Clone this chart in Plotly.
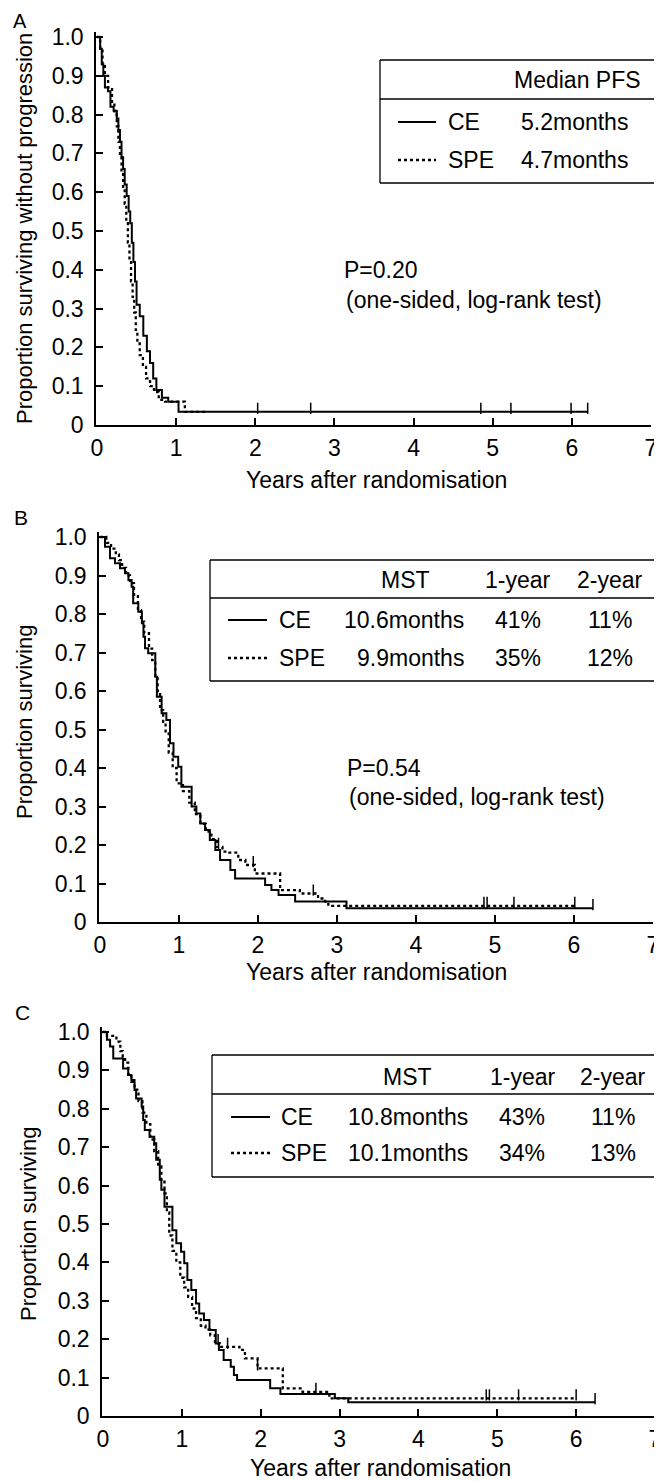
import numpy as np
import plotly.graph_objects as go

# page body adds an 8px margin, so the figure is drawn 8px smaller and shifted
PAGE_W, PAGE_H = 662, 1481
OFF = 8
W, H = PAGE_W - OFF, PAGE_H - OFF
FONT = "Liberation Sans, Arial, Helvetica, sans-serif"
FS = 23

# ---------------- data ----------------
# Panel A: progression-free survival
a_ce_t = [0, 0.04, 0.06, 0.08, 0.10, 0.14, 0.17, 0.21, 0.25, 0.27, 0.29, 0.31, 0.33, 0.35, 0.375, 0.40,
          0.42, 0.44, 0.46, 0.48, 0.50, 0.54, 0.585, 0.63, 0.67, 0.71, 0.75, 0.82, 0.90, 1.03, 6.20]
a_ce_s = [1.0, 0.97, 0.93, 0.90, 0.87, 0.86, 0.82, 0.81, 0.79, 0.76, 0.73, 0.69, 0.66, 0.62, 0.59, 0.55,
          0.52, 0.47, 0.42, 0.37, 0.31, 0.28, 0.23, 0.19, 0.16, 0.12, 0.09, 0.07, 0.06, 0.034, 0.034]
a_spe_t = [0, 0.04, 0.07, 0.10, 0.14, 0.19, 0.22, 0.25, 0.27, 0.29, 0.31, 0.33, 0.35, 0.37, 0.39, 0.41,
           0.43, 0.45, 0.47, 0.49, 0.51, 0.54, 0.58, 0.62, 0.67, 0.72, 0.78, 0.86, 1.11, 1.38]
a_spe_s = [1.0, 0.97, 0.93, 0.90, 0.87, 0.83, 0.80, 0.77, 0.73, 0.69, 0.65, 0.61, 0.57, 0.52, 0.47, 0.42,
           0.37, 0.33, 0.29, 0.245, 0.21, 0.18, 0.15, 0.12, 0.10, 0.085, 0.065, 0.06, 0.034, 0.034]
a_ce_cens = [2.03, 2.70, 4.85, 5.23, 5.99, 6.20]
a_spe_cens = []

# Panel B: overall survival
b_ce_t = [0, 0.063, 0.127, 0.19, 0.253, 0.316, 0.36, 0.40, 0.42, 0.485, 0.53, 0.55, 0.57, 0.61, 0.70,
          0.72, 0.78, 0.84, 0.886, 0.93, 0.99, 1.03, 1.16, 1.22, 1.27, 1.33, 1.39, 1.46, 1.52, 1.65,
          1.71, 2.09, 2.17, 2.26, 2.47, 3.12, 6.24]
b_ce_s = [1.0, 0.975, 0.945, 0.932, 0.919, 0.906, 0.888, 0.871, 0.828, 0.806, 0.776, 0.741, 0.711,
          0.698, 0.637, 0.585, 0.542, 0.525, 0.464, 0.429, 0.403, 0.351, 0.30, 0.282, 0.256, 0.239,
          0.213, 0.187, 0.161, 0.135, 0.113, 0.096, 0.083, 0.070, 0.053, 0.036, 0.036]
b_spe_t = [0, 0.08, 0.14, 0.20, 0.24, 0.28, 0.33, 0.38, 0.43, 0.48, 0.52, 0.56, 0.62, 0.66, 0.70, 0.73,
           0.76, 0.80, 0.83, 0.87, 0.92, 0.97, 1.05, 1.13, 1.20, 1.27, 1.34, 1.41, 1.48, 1.55, 1.62,
           1.75, 1.84, 1.96, 2.28, 2.53, 2.76, 2.85, 2.89, 6.01]
b_spe_s = [1.0, 0.985, 0.97, 0.955, 0.94, 0.92, 0.90, 0.88, 0.85, 0.81, 0.78, 0.75, 0.71, 0.68, 0.64,
           0.60, 0.55, 0.52, 0.49, 0.44, 0.40, 0.36, 0.34, 0.31, 0.28, 0.255, 0.235, 0.215, 0.195,
           0.183, 0.18, 0.161, 0.148, 0.126, 0.083, 0.074, 0.061, 0.053, 0.042, 0.042]
b_ce_cens = [6.24]
b_spe_cens = [1.50, 1.94, 2.70, 4.86, 4.90, 5.24, 6.01]

# Panel C: overall survival (eligible patients)
c_ce_t = [0, 0.05, 0.09, 0.13, 0.255, 0.32, 0.36, 0.40, 0.42, 0.49, 0.51, 0.53, 0.59, 0.65, 0.675,
          0.72, 0.74, 0.78, 0.88, 0.93, 0.99, 1.03, 1.07, 1.12, 1.18, 1.22, 1.28, 1.35, 1.43, 1.47,
          1.53, 1.62, 1.66, 1.70, 2.12, 2.25, 2.94, 3.11, 6.24]
c_ce_s = [1.0, 0.98, 0.962, 0.931, 0.905, 0.888, 0.875, 0.849, 0.827, 0.806, 0.771, 0.745, 0.727,
          0.710, 0.667, 0.615, 0.589, 0.545, 0.484, 0.45, 0.428, 0.398, 0.354, 0.328, 0.293, 0.267,
          0.25, 0.224, 0.189, 0.172, 0.146, 0.128, 0.107, 0.094, 0.072, 0.057, 0.046, 0.036, 0.036]
c_spe_t = [0, 0.05, 0.17, 0.22, 0.25, 0.28, 0.32, 0.36, 0.40, 0.45, 0.50, 0.55, 0.60, 0.65, 0.70,
           0.74, 0.78, 0.81, 0.84, 0.88, 0.93, 0.98, 1.03, 1.08, 1.13, 1.18, 1.24, 1.30, 1.36, 1.42,
           1.48, 1.73, 1.80, 1.96, 2.28, 2.53, 2.87, 6.00]
c_spe_s = [1.0, 0.99, 0.975, 0.95, 0.935, 0.92, 0.89, 0.87, 0.85, 0.82, 0.79, 0.76, 0.72, 0.69, 0.65,
           0.61, 0.58, 0.53, 0.47, 0.43, 0.40, 0.36, 0.335, 0.31, 0.28, 0.255, 0.235, 0.225, 0.21,
           0.19, 0.18, 0.172, 0.150, 0.124, 0.072, 0.063, 0.046, 0.046]
c_ce_cens = [6.24]
c_spe_cens = [1.46, 1.58, 1.96, 2.70, 4.86, 4.90, 5.27, 6.00]

x_ticks = [0, 1, 2, 3, 4, 5, 6, 7]
y_ticks = [0, 0.1, 0.2, 0.3, 0.4, 0.5, 0.6, 0.7, 0.8, 0.9, 1.0]
y_ticktext = ["0", "0.1", "0.2", "0.3", "0.4", "0.5", "0.6", "0.7", "0.8", "0.9", "1.0"]

# ---------------- layout geometry (page pixels) ----------------
XR = [-0.012, 7.0]
YR = [0.0, 1.012]
panels = [
    dict(x0=97, x7=651, y0=425, y1=37),
    dict(x0=100, x7=653, y0=922, y1=537),
    dict(x0=103, x7=655, y0=1416, y1=1032),
]


def px(x):
    return (x - OFF) / W


def py(y):
    return 1 - (y - OFF) / H


def xdom(p0, p7):
    sc = (p7 - p0) / 7.0
    return [px(p0 + XR[0] * sc), px(p0 + XR[1] * sc)]


def ydom(p0, p1):
    sc = (p0 - p1)
    return [py(p0 - YR[0] * sc), py(p0 - YR[1] * sc)]


def surv_at(ts, ss, t):
    i = int(np.searchsorted(np.array(ts), t, side="right")) - 1
    return ss[max(i, 0)]


fig = go.Figure()

series = [
    (a_ce_t, a_ce_s, a_ce_cens, a_spe_t, a_spe_s, a_spe_cens),
    (b_ce_t, b_ce_s, b_ce_cens, b_spe_t, b_spe_s, b_spe_cens),
    (c_ce_t, c_ce_s, c_ce_cens, c_spe_t, c_spe_s, c_spe_cens),
]

for k, (cet, ces, cec, spt, sps, spc) in enumerate(series):
    ax = "" if k == 0 else str(k + 1)
    xa, ya = "x" + ax, "y" + ax
    fig.add_trace(go.Scatter(x=spt, y=sps, mode="lines", line=dict(shape="hv", color="black", width=2.3, dash="3px,3px"),
                             xaxis=xa, yaxis=ya, showlegend=False, hoverinfo="skip"))
    fig.add_trace(go.Scatter(x=cet, y=ces, mode="lines", line=dict(shape="hv", color="black", width=2),
                             xaxis=xa, yaxis=ya, showlegend=False, hoverinfo="skip"))
    for cens, ts, ss in ((cec, cet, ces), (spc, spt, sps)):
        if cens:
            fig.add_trace(go.Scatter(x=cens, y=[surv_at(ts, ss, c) + 0.009 for c in cens], mode="markers",
                                     marker=dict(symbol="line-ns", size=8, line=dict(width=1.5, color="black")),
                                     xaxis=xa, yaxis=ya, showlegend=False, hoverinfo="skip"))

layout = dict(width=W, height=H, margin=dict(l=0, r=0, t=0, b=0, autoexpand=False), paper_bgcolor="white",
              plot_bgcolor="white", font=dict(family=FONT, size=FS, color="black"))
for k, p in enumerate(panels):
    ax = "" if k == 0 else str(k + 1)
    layout["xaxis" + ax] = dict(domain=xdom(p["x0"], p["x7"]), range=XR, anchor="y" + ax,
                                tickvals=x_ticks, ticktext=[str(v) for v in x_ticks],
                                ticks="inside", ticklen=7, tickwidth=1.5, tickcolor="black",
                                showline=True, linewidth=1.6, linecolor="black", showgrid=False,
                                zeroline=False, ticklabelstandoff=2, tickfont=dict(size=FS),
                                automargin=False, ticklabeloverflow="allow")
    layout["yaxis" + ax] = dict(domain=ydom(p["y0"], p["y1"]), range=YR, anchor="x" + ax,
                                tickvals=y_ticks, ticktext=y_ticktext,
                                ticks="inside", ticklen=7, tickwidth=1.5, tickcolor="black",
                                showline=True, linewidth=1.6, linecolor="black", showgrid=False,
                                zeroline=False, ticklabelstandoff=6, tickfont=dict(size=FS),
                                automargin=False, ticklabeloverflow="allow")
fig.update_layout(**layout)

ann = []
shapes = []


def text(x, y, s, xanchor="left", size=FS, angle=0, yanchor="middle"):
    ann.append(dict(x=px(x), y=py(y), xref="paper", yref="paper", text=s, showarrow=False,
                    xanchor=xanchor, yanchor=yanchor, textangle=angle, borderpad=0,
                    font=dict(family=FONT, size=size, color="black")))


def hline(x0, x1, y, dash="solid", width=1.3):
    shapes.append(dict(type="line", xref="paper", yref="paper", x0=px(x0), x1=px(x1), y0=py(y), y1=py(y),
                       line=dict(color="black", width=width, dash=dash)))


def vline(x, y0, y1, width=1.3):
    shapes.append(dict(type="line", xref="paper", yref="paper", x0=px(x), x1=px(x), y0=py(y0), y1=py(y1),
                       line=dict(color="black", width=width)))


# panel letters
text(20, 8.5, "A", "center", 20, yanchor="top")
text(21, 517, "B", "center", 21)
text(22, 1012, "C", "center", 21)

# axis titles
text(376, 480, "Years after randomisation", "center")
text(377, 972, "Years after randomisation", "center")
text(380, 1468, "Years after randomisation", "center")
text(24, 229, "Proportion surviving without progression", "center", 22, -90)
text(25, 722, "Proportion surviving", "center", 22, -90)
text(28, 1224, "Proportion surviving", "center", 22, -90)

# Panel A legend box
hline(380, 661, 60); hline(380, 661, 99); hline(380, 661, 183)
vline(380, 60, 183); vline(661, 60, 183)
text(577, 80, "Median PFS", "center")
hline(398, 436, 122, "solid", 2)
hline(398, 436, 160, "3px,3px", 2.3)
text(447, 122, "CE"); text(520, 122, "5.2months")
text(447, 160, "SPE"); text(520, 160, "4.7months")
text(343, 270, "P=0.20")
text(345, 300, "(one-sided, log-rank test)")

# Panel B legend box
hline(210, 663, 560); hline(210, 663, 598); hline(210, 663, 681)
vline(210, 560, 681)
text(405, 580, "MST", "center"); text(518, 580, "1-year", "center"); text(610, 580, "2-year", "center")
hline(228, 267, 620, "solid", 2)
hline(228, 267, 658, "3px,3px", 2.3)
text(278, 620, "CE"); text(465, 620, "10.6months", "right"); text(518, 620, "41%", "center"); text(610, 620, "11%", "center")
text(278, 658, "SPE"); text(465, 658, "9.9months", "right"); text(518, 658, "35%", "center"); text(610, 658, "12%", "center")
text(346, 768, "P=0.54")
text(348, 797, "(one-sided, log-rank test)")

# Panel C legend box
hline(212, 663, 1055); hline(212, 663, 1094); hline(212, 663, 1177)
vline(212, 1055, 1177)
text(407, 1077, "MST", "center"); text(523, 1077, "1-year", "center"); text(613, 1077, "2-year", "center")
hline(231, 270, 1117, "solid", 2)
hline(231, 270, 1153, "3px,3px", 2.3)
text(280, 1117, "CE"); text(469, 1117, "10.8months", "right"); text(522, 1117, "43%", "center"); text(613, 1117, "11%", "center")
text(280, 1153, "SPE"); text(469, 1153, "10.1months", "right"); text(522, 1153, "34%", "center"); text(613, 1153, "13%", "center")

fig.update_layout(annotations=ann, shapes=shapes)
fig.write_html("out.html")
